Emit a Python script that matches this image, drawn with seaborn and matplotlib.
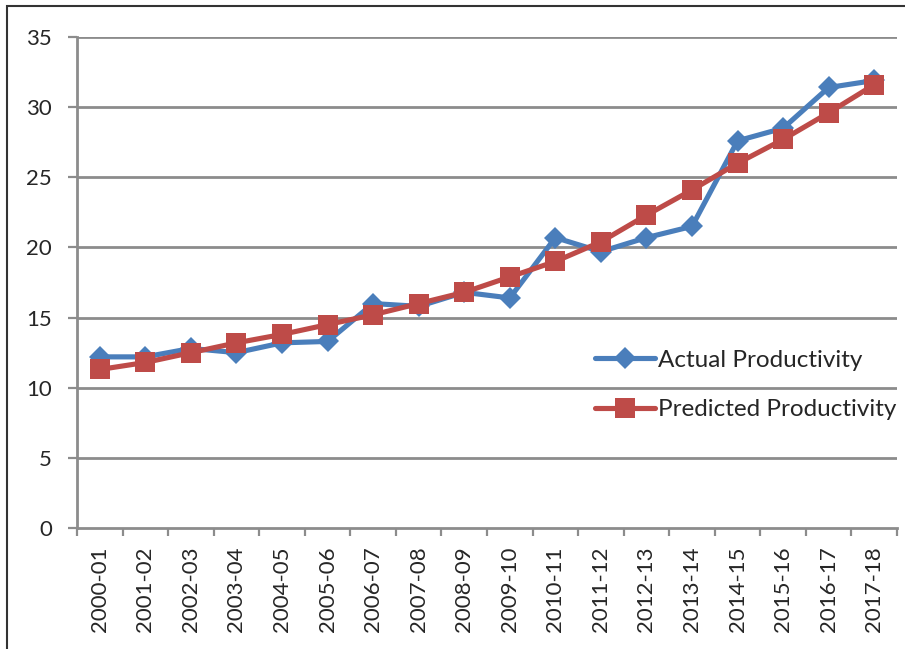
import matplotlib
matplotlib.use("Agg")
import matplotlib.pyplot as plt
import matplotlib.patches as mpatches
import seaborn as sns
import pandas as pd

years = ["2000-01", "2001-02", "2002-03", "2003-04", "2004-05", "2005-06",
         "2006-07", "2007-08", "2008-09", "2009-10", "2010-11", "2011-12",
         "2012-13", "2013-14", "2014-15", "2015-16", "2016-17", "2017-18"]
actual = [12.2, 12.2, 12.8, 12.5, 13.2, 13.3, 16.0, 15.8, 16.8, 16.4,
          20.7, 19.7, 20.7, 21.5, 27.6, 28.5, 31.4, 31.9]
predicted = [11.3, 11.8, 12.5, 13.2, 13.8, 14.5, 15.2, 16.0, 16.8, 17.9,
             19.0, 20.4, 22.3, 24.1, 26.0, 27.7, 29.6, 31.6]
y_ticks = [0, 5, 10, 15, 20, 25, 30, 35]

sns.set_style("white")
plt.rcParams["font.family"] = ["Lato", "DejaVu Sans"]

BLUE = "#4a7ebb"
RED = "#be4b48"
GRID = "#8c8c8c"

fig = plt.figure(figsize=(9.05, 6.49), dpi=100)
ax = fig.add_axes([0.0851, 0.1864, 0.9061, 0.7566])

df = pd.DataFrame({"Year": years, "Actual Productivity": actual,
                   "Predicted Productivity": predicted})

sns.lineplot(data=df, x="Year", y="Actual Productivity", ax=ax, color=BLUE,
             linewidth=3.7, marker="D", markersize=11, markeredgewidth=0,
             sort=False, label="Actual Productivity", zorder=3)
sns.lineplot(data=df, x="Year", y="Predicted Productivity", ax=ax, color=RED,
             linewidth=3.7, marker="s", markersize=14.5, markeredgewidth=0,
             sort=False, label="Predicted Productivity", zorder=4)

ax.set_xlim(-0.5, len(years) - 0.5)
ax.set_ylim(0, 35)
ax.set_yticks(y_ticks)
ax.set_xlabel("")
ax.set_ylabel("")

for y in y_ticks[1:]:
    ax.axhline(y, color=GRID, linewidth=2, zorder=1)

# category boundaries carry the tick marks, labels sit at the centres
ax.set_xticks([i - 0.5 for i in range(len(years) + 1)], minor=False)
ax.set_xticklabels([])
ax.set_xticks(range(len(years)), minor=True)
ax.set_xticklabels(years, minor=True, rotation=90, fontsize=16)
ax.tick_params(axis="x", which="major", direction="out", length=5.5, width=1.6,
               color=GRID, bottom=True)
ax.tick_params(axis="x", which="minor", length=0, pad=13)
ax.tick_params(axis="y", direction="out", length=6.5, width=1.6, color=GRID,
               left=True, labelsize=16, pad=11.5)

for side in ["top", "right"]:
    ax.spines[side].set_visible(False)
for side in ["left", "bottom"]:
    ax.spines[side].set_color(GRID)
    ax.spines[side].set_linewidth(2)

leg = ax.legend(loc="upper left", bbox_to_anchor=(0.632, 0.363),
                frameon=False, fontsize=17.5, handlelength=2.45,
                handletextpad=0.12, labelspacing=1.17, borderaxespad=0,
                borderpad=0)

# outer chart frame
fig.patches.append(mpatches.Rectangle((7 / 905, -0.05), 1.0, 1 - 6 / 649 + 0.05,
                                      transform=fig.transFigure, fill=False,
                                      edgecolor="#333333", linewidth=1.5))

fig.savefig("out.png", dpi=100)
